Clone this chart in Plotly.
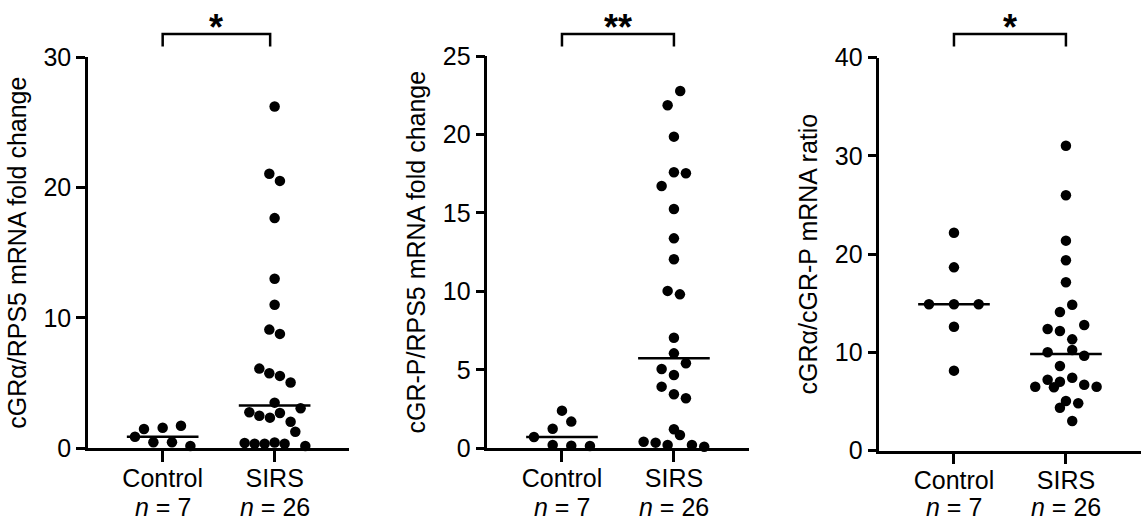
import numpy as np
import plotly.graph_objects as go

# ---------------- data ----------------
categories = ["Control", "SIRS"]
group_n = [7, 26]

# Panel A: cGRα/RPS5 mRNA fold change
a_control = [0.89, 1.48, 1.58, 1.73, 0.46, 0.46, 0.18]
a_sirs = [26.2, 21.05, 20.5, 17.65, 13.0, 11.0, 9.1, 8.77, 6.11, 5.75, 5.55, 5.04,
          3.5, 3.07, 2.76, 2.5, 2.35, 2.71, 2.04, 1.27, 0.4, 0.35, 0.35, 0.45, 0.35, 0.18]

# Panel B: cGR-P/RPS5 mRNA fold change
b_control = [0.72, 1.25, 2.4, 1.70, 0.21, 0.17, 0.15]
b_sirs = [22.77, 21.86, 19.86, 17.59, 17.53, 16.72, 15.25, 13.38, 12.05, 10.03, 9.81,
          7.05, 6.05, 5.42, 5.05, 4.67, 3.93, 3.44, 3.19, 1.21, 0.85, 0.42, 0.36, 0.21, 0.21, 0.10]

# Panel C: cGRα/cGR-P mRNA ratio
c_control = [22.18, 18.65, 14.89, 14.89, 14.89, 12.61, 8.13]
c_sirs = [31.04, 25.99, 21.37, 19.37, 17.13, 14.85, 14.10, 12.78, 12.37, 12.17, 11.32,
          10.0, 10.23, 9.65, 8.6, 7.21, 7.0, 7.41, 6.5, 6.44, 6.7, 6.5, 5.04, 4.81, 4.36, 3.0]

y_titles = ["cGRα/RPS5 mRNA fold change", "cGR-P/RPS5 mRNA fold change", "cGRα/cGR-P mRNA ratio"]
y_ticks = [[0, 10, 20, 30], [0, 5, 10, 15, 20, 25], [0, 10, 20, 30, 40]]
significance = ["*", "**", "*"]

# ---------------- point spreading (scatter-dot layout, pixel offsets) ----------------
a_control_dx = [-27.7, -18.7, 0, 18.3, -9.3, 9.3, 27.7]
a_sirs_dx = [0, -5.3, 5.3, 0, 0, 0, -5.3, 5.3, -15.3, -5.3, 5.3, 16, 0, 26, -25.3, -15.3,
             -4.7, 5.3, 16, 20.7, -30, -20, -10, 0, 10, 30.7]
b_control_dx = [-28, -9.3, 0, 9.3, -9.3, 9.3, 28]
b_sirs_dx = [6.3, -6.3, 0, 0, 12, -12.3, 0, 0, 0, -6.3, 6, 0, 0, 12, -12.3, 0, -12.3, 0, 12,
             0, 6, -30.3, -18.3, -6.3, 18, 30.3]
c_control_dx = [0, 0, -25, 0, 24.7, 0, 0]
c_sirs_dx = [0, 0, 0, 0, 0, 6.3, -6, 18.3, -18.3, -6, 6.3, -18.3, 6.3, 18.3, -6, -18.3, -6,
             6.3, -30.7, -12, 18.3, 30.7, 0, 12.3, -6, 6.3]

panels = [
    (a_control, a_sirs, a_control_dx, a_sirs_dx),
    (b_control, b_sirs, b_control_dx, b_sirs_dx),
    (c_control, c_sirs, c_control_dx, c_sirs_dx),
]

# ---------------- layout geometry ----------------
W, H = 1146, 520
PX_PER_CAT = 112.0
x_domains_px = [(88, 349.3), (487.3, 748.6), (879.3, 1140.6)]
y_domains_px = [(57, 448.3), (56, 448.3), (57.7, 450.5)]
bracket_right = [0.96, 1.0, 1.0]
xrange_ = [-0.667, 1.667]
FONT = "Liberation Sans, Arial, sans-serif"
FS = 25
LW = 2.5

fig = go.Figure()
layout_axes = {}
shapes = []
annotations = []

for i, (ctrl, sirs, cdx, sdx) in enumerate(panels):
    k = "" if i == 0 else str(i + 1)
    xa, ya = "x" + k, "y" + k
    groups = [(0, ctrl, cdx), (1, sirs, sdx)]
    for pos, vals, dx in groups:
        xs = [pos + d / PX_PER_CAT for d in dx]
        fig.add_trace(go.Scatter(
            x=xs, y=vals, mode="markers", xaxis=xa, yaxis=ya,
            marker=dict(color="black", size=10.5, line=dict(width=0)),
            cliponaxis=False, showlegend=False, hoverinfo="y"))
        med = float(np.median(vals))
        fig.add_trace(go.Scatter(
            x=[pos - 0.32, pos + 0.32], y=[med, med], mode="lines", xaxis=xa, yaxis=ya,
            line=dict(color="black", width=LW), showlegend=False, hoverinfo="skip"))

    x0, x1 = x_domains_px[i]
    yt, yb = y_domains_px[i]
    ticks = y_ticks[i]
    layout_axes["xaxis" + k] = dict(
        domain=[x0 / W, x1 / W], range=xrange_, anchor=ya, automargin=False,
        tickmode="array", tickvals=[0, 1], ticktext=categories,
        showline=True, linecolor="black", linewidth=LW, ticks="outside",
        ticklen=11, tickwidth=LW, tickcolor="black", showgrid=False, zeroline=False,
        ticklabelstandoff=-5,
        tickfont=dict(family=FONT, size=FS, color="black"), fixedrange=True)
    layout_axes["yaxis" + k] = dict(
        domain=[1 - yb / H, 1 - yt / H], range=[ticks[0], ticks[-1]], anchor=xa,
        automargin=False,
        tickmode="array", tickvals=ticks,
        showline=True, linecolor="black", linewidth=LW, ticks="outside",
        ticklen=9, tickwidth=LW, tickcolor="black", showgrid=False, zeroline=False,
        tickfont=dict(family=FONT, size=FS, color="black"),
        title=dict(text=y_titles[i], font=dict(family=FONT, size=FS, color="black"), standoff=10),
        fixedrange=True)

    # group sizes under the category labels
    for pos, n in zip([0, 1], group_n):
        annotations.append(dict(x=pos, y=1 - 507 / H, xref=xa, yref="paper",
                                text=f"<i>n</i> = {n}", showarrow=False,
                                xanchor="center", yanchor="middle",
                                font=dict(family=FONT, size=FS, color="black")))

    # significance bracket
    y_top = 1 - 34 / H
    y_bot = 1 - 46.5 / H
    xr = bracket_right[i]
    shapes.append(dict(type="path", xref=xa, yref="paper",
                       path=f"M 0,{y_bot} L 0,{y_top} L {xr},{y_top} L {xr},{y_bot}",
                       line=dict(color="black", width=LW)))
    annotations.append(dict(x=xr / 2, y=1 - 27 / H, xref=xa, yref="paper",
                            text=f"<b>{significance[i]}</b>", showarrow=False,
                            xanchor="center", yanchor="middle",
                            font=dict(family=FONT, size=36, color="black")))

fig.update_layout(
    width=W, height=H, margin=dict(l=0, r=0, t=0, b=0, autoexpand=False),
    paper_bgcolor="white", plot_bgcolor="white",
    shapes=shapes, annotations=annotations, showlegend=False,
    **layout_axes)

fig.write_html("out.html", config={"displayModeBar": False},
               post_script="document.body.style.margin='0';document.body.style.padding='0';")
